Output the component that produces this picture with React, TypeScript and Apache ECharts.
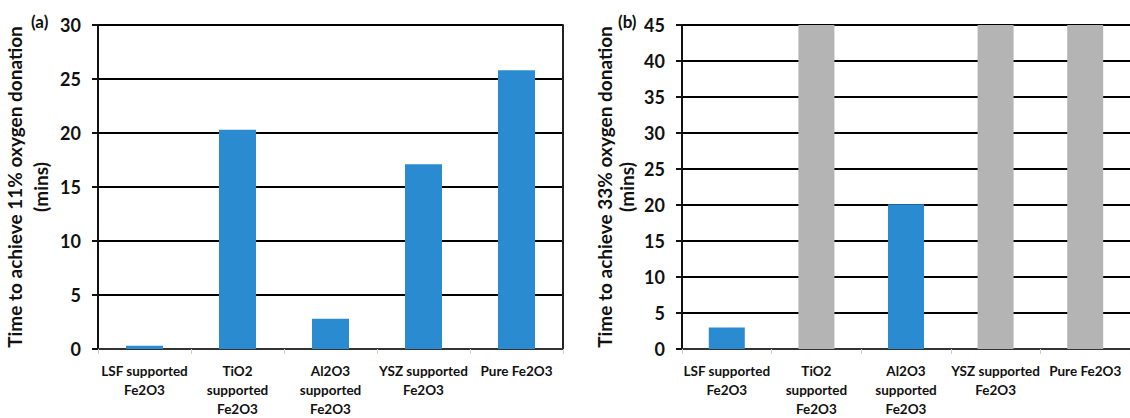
import React, { useEffect, useRef } from "react";
import * as echarts from "echarts";

const categories = [
  "LSF supported\nFe2O3",
  "TiO2\nsupported\nFe2O3",
  "Al2O3\nsupported\nFe2O3",
  "YSZ supported\nFe2O3",
  "Pure Fe2O3",
];
const valuesA = [0.3, 20.3, 2.8, 17.1, 25.8];
const valuesB = [3.0, 45, 20.1, 45, 45];
const reachedB = [true, false, true, false, false];
const nameA = "Time to achieve 11% oxygen donation\n(mins)";
const nameB = "Time to achieve 33% oxygen donation\n(mins)";
const panelA = "(a)";
const panelB = "(b)";

const BLUE = "#2a8bd1";
const GREY = "#b4b4b4";
const FONT = "Lato";

export default function App() {
  const ref = useRef<HTMLDivElement>(null);
  useEffect(() => {
    document.body.style.margin = "0";
    const chart = echarts.init(ref.current!, null, { renderer: "svg" });
    const xAxisCommon = (gridIndex: number) => ({
      type: "category",
      gridIndex,
      data: categories,
      axisLine: { show: true, lineStyle: { color: "#444", width: 1.5 } },
      axisTick: { show: true, length: 5, lineStyle: { color: "#ccc" } },
      axisLabel: {
        interval: 0,
        margin: 12,
        color: "#111",
        fontFamily: FONT,
        fontWeight: "bold",
        fontSize: 13.5,
        lineHeight: 19,
      },
    });
    const yAxisCommon = (gridIndex: number, max: number, name: string, lh: number) => ({
      type: "value",
      gridIndex,
      min: 0,
      max,
      interval: 5,
      name,
      nameLocation: "middle",
      nameGap: 45,
      nameRotate: 90,
      nameTextStyle: {
        color: "#111",
        fontFamily: FONT,
        fontWeight: "bold",
        fontSize: 19,
        lineHeight: lh,
        align: "center",
      },
      axisLine: { show: true, lineStyle: { color: "#111", width: 2 } },
      axisTick: { show: true, inside: false, length: 6, lineStyle: { color: "#111", width: 2 } },
      axisLabel: {
        margin: 17,
        color: "#111",
        fontFamily: FONT,
        fontWeight: "bold",
        fontSize: 18,
      },
      splitLine: { show: true, lineStyle: { color: "#000000", width: 2 } },
    });
    const panelStyle = {
      fontFamily: FONT,
      fontWeight: "bold",
      fontSize: 17,
      color: "#111",
    };
    chart.setOption({
      animation: false,
      backgroundColor: "#fff",
      title: [
        { text: panelA, left: 31, top: 13, padding: 0, textStyle: panelStyle },
        { text: panelB, left: 618, top: 13, padding: 0, textStyle: panelStyle },
      ],
      grid: [
        { left: 97, top: 25, width: 466, height: 331 },
        { left: 682, top: 25, width: 456, height: 324 },
      ],
      xAxis: [xAxisCommon(0), xAxisCommon(1)],
      yAxis: [
        yAxisCommon(0, 30, nameA, 26),
        yAxisCommon(1, 45, nameB, 22),
        {
          type: "value",
          gridIndex: 0,
          position: "right",
          min: 0,
          max: 30,
          interval: 5,
          axisLine: { show: true, lineStyle: { color: "#222", width: 2 } },
          axisTick: { show: false },
          axisLabel: { show: false },
          splitLine: { show: false },
        },
      ],
      series: [
        {
          type: "bar",
          xAxisIndex: 0,
          yAxisIndex: 0,
          barWidth: 37,
          data: valuesA,
          itemStyle: { color: BLUE },
        },
        {
          type: "bar",
          xAxisIndex: 1,
          yAxisIndex: 1,
          barWidth: 36,
          data: valuesB.map((v, i) => ({
            value: v,
            itemStyle: { color: reachedB[i] ? BLUE : GREY },
          })),
        },
      ],
    });
    return () => chart.dispose();
  }, []);
  return (
    <div
      ref={ref}
      style={{ position: "absolute", left: 0, top: 0, width: 1130, height: 418 }}
    />
  );
}
